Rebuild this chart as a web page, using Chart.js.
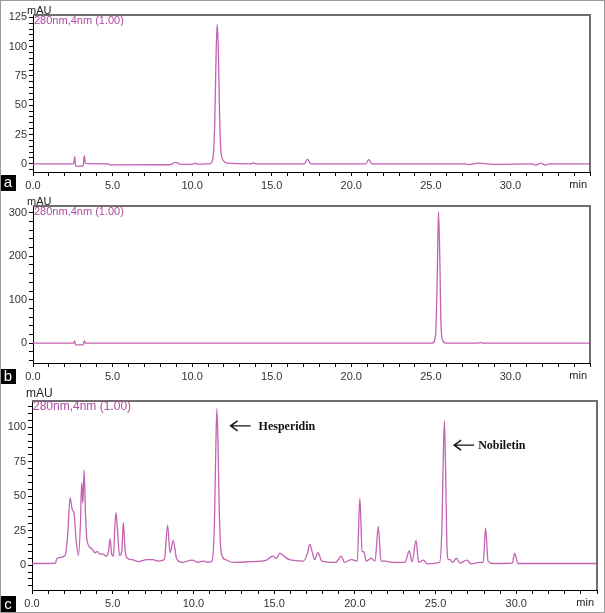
<!DOCTYPE html>
<html>
<head>
<meta charset="utf-8">
<script src="https://cdn.jsdelivr.net/npm/chart.js@4.4.1/dist/chart.umd.min.js"></script>
<style>
    body { margin: 0; background: #fff; }
    #wrap { position: relative; width: 605px; height: 613px; overflow: hidden; background: #fff; }
    #wrap canvas { position: absolute; left: 0; }
    .frame { position: absolute; left: 0; top: 0; width: 603px; height: 611px; border: 1px solid #9a9a9a; pointer-events: none; }
    .tag { position: absolute; left: 0; width: 16px; background: #000; color: #fff; font: 15px "Liberation Sans", Arial, sans-serif; text-align: center; }
</style>
</head>
<body>
<div id="wrap">
    <canvas id="chartA" width="605" height="190" style="top:0"></canvas>
    <canvas id="chartB" width="605" height="190" style="top:190px"></canvas>
    <canvas id="chartC" width="605" height="233" style="top:380px"></canvas>
    <div class="tag" style="top:175px;height:16px;line-height:14px">a</div>
    <div class="tag" style="top:369px;height:15px;line-height:13px">b</div>
    <div class="tag" style="top:596px;height:16px;line-height:15px">c</div>
    <div class="frame"></div>
</div>
<script>
// retention time (min) and absorbance (mAU)
const timeA = [0, 2.55, 2.62, 2.68, 3.15, 3.22, 3.3, 4.7, 4.85, 8.6, 8.95, 9.3, 10.0, 10.15, 10.4,
    11.1, 11.3, 11.42, 11.5, 11.57, 11.64, 11.72, 11.8, 11.95, 12.2, 13.7, 13.85, 14.0,
    17.05, 17.25, 17.45, 20.9, 21.1, 21.3, 27.2, 27.35, 28.0, 29.1, 31.3, 31.6, 31.9, 32.2, 32.5, 35];
const mauA = [0, 0, 6, -2, -2, 7, 0.3, 0, -1, -0.8, 1.2, -0.5, -0.5, 0.5, -0.3,
    0, 4, 35, 90, 119, 100, 45, 12, 3, 0.5, 0, 0.8, 0,
    0, 4, 0, 0, 3.5, 0, 0, -0.7, 0.5, -0.5, 0, -1, 0.5, -1, 0, 0];

const timeB = [0, 2.55, 2.62, 2.68, 3.15, 3.22, 3.3, 25.1, 25.3, 25.4, 25.48, 25.56, 25.64, 25.75, 25.95,
    28.0, 28.1, 28.2, 35];
const mauB = [0, 0, 5, -4, -4, 5, 0, 0, 20, 150, 303, 200, 40, 5, 0,
    0, 1.5, 0, 0];

const timeC = [0, 1.45, 1.55, 2.05, 2.2, 2.36, 2.5, 2.6, 2.72, 2.88, 3.0, 3.08, 3.15, 3.23, 3.32, 3.42,
    3.7, 3.9, 4.05, 4.2, 4.4, 4.6, 4.74, 4.84, 4.94, 5.05, 5.12, 5.2, 5.3, 5.42, 5.56, 5.66, 5.76, 5.9,
    6.2, 6.6, 7.1, 7.5, 7.8, 8.2, 8.4, 8.55, 8.75, 8.95, 9.3, 9.9, 10.3, 10.6, 10.9,
    11.15, 11.3, 11.38, 11.45, 11.52, 11.6, 11.72, 11.98, 12.5, 13.5, 14.5, 14.9, 15.15, 15.35, 15.55, 15.95,
    16.8, 17.05, 17.2, 17.35, 17.5, 17.72, 17.95, 18.8, 19.17, 19.35, 19.8, 20.15, 20.31, 20.45, 20.56, 20.7,
    21.0, 21.25, 21.45, 21.62, 21.86, 22.3, 23.1, 23.37, 23.55, 23.79, 23.95, 24.24, 24.5,
    25.25, 25.4, 25.48, 25.55, 25.62, 25.7, 25.8, 25.9, 26.05, 26.3, 26.5, 26.94, 27.2, 27.7,
    27.95, 28.1, 28.25, 28.6, 29.75, 29.9, 30.1, 35];
const mauC = [1.2, 1.5, 5, 7, 20, 49, 40, 38, 20, 7, 30, 60, 45, 69, 35, 17,
    12, 9, 10, 8, 8, 6.5, 10, 19, 8, 6.5, 25, 38, 25, 7, 10, 31, 12, 5,
    4, 2.5, 4, 4, 3, 4, 29, 9, 18, 5, 2, 3.7, 2, 3, 2,
    3, 30, 80, 113.5, 90, 40, 9, 4, 2, 2.5, 3.5, 6.5, 5, 8.7, 7, 4,
    3, 8, 15, 10, 4, 9, 3, 2, 6.5, 2, 4, 3, 48.5, 10, 9.7, 3,
    5, 3, 28, 3, 3, 2, 2, 10.4, 2.5, 18, 2, 3.6, 1,
    2, 30, 80, 104.6, 70, 15, 4, 4, 2, 5, 1.5, 3.6, 1, 2,
    2, 27, 3, 1.2, 1.5, 8.5, 1.2, 1.2];

const peakNames = ['Hesperidin', 'Nobiletin'];
const headerText = '280nm,4nm (1.00)';

const LINE = '#c462b4';
const TEXT_PINK = '#b04aa0';
const SANS = '"Liberation Sans", Arial, sans-serif';

const makeChart = (id, times, values, opt) => {
    const canvas = document.getElementById(id);
    const H = canvas.height;

    // frame, axis caption, header and peak notes
    const decor = {
        id: 'decor',
        afterDraw(chart) {
            const { ctx, chartArea: a, scales: { x, y } } = chart;
            ctx.save();
            ctx.strokeStyle = '#6e6e6e';
            ctx.lineWidth = 2;
            ctx.beginPath();
            ctx.moveTo(a.left, a.top);
            ctx.lineTo(a.right, a.top);
            ctx.lineTo(a.right, a.bottom);
            ctx.stroke();

            ctx.textBaseline = 'middle';
            ctx.fillStyle = '#222';
            ctx.font = `${opt.capSize}px ${SANS}`;
            ctx.textAlign = 'left';
            ctx.fillText('mAU', a.left - 6, a.top - opt.capLift);

            ctx.fillStyle = TEXT_PINK;
            ctx.font = `${opt.headSize}px ${SANS}`;
            ctx.fillText(headerText, a.left + 1, a.top + 6);

            ctx.fillStyle = '#222';
            ctx.font = `11px ${SANS}`;
            ctx.textAlign = 'right';
            ctx.fillText('min', a.right - 3, a.bottom + 13);

            (opt.notes || []).forEach(n => {
                const px = x.getPixelForValue(n.t);
                const py = y.getPixelForValue(n.v);
                ctx.strokeStyle = '#111';
                ctx.lineWidth = 1.4;
                ctx.beginPath();
                ctx.moveTo(px + 20, py);
                ctx.lineTo(px, py);
                ctx.moveTo(px + 7, py - 5);
                ctx.lineTo(px, py);
                ctx.lineTo(px + 7, py + 5);
                ctx.stroke();
                ctx.fillStyle = '#111';
                ctx.textAlign = 'left';
                ctx.font = `bold 12px "Liberation Serif", "Times New Roman", serif`;
                ctx.fillText(n.text, px + n.gap, py + 1);
            });
            ctx.restore();
        }
    };

    return new Chart(canvas.getContext('2d'), {
        type: 'scatter',
        data: {
            datasets: [{
                data: times.map((t, i) => ({ x: t, y: values[i] })),
                showLine: true,
                borderColor: LINE,
                borderWidth: 1.3,
                pointRadius: 0,
                cubicInterpolationMode: 'monotone',
                fill: false
            }]
        },
        options: {
            responsive: false,
            animation: false,
            events: [],
            layout: { padding: { left: 0, top: opt.top, right: 605 - opt.right, bottom: 0 } },
            plugins: { legend: { display: false }, tooltip: { enabled: false } },
            scales: {
                x: {
                    type: 'linear',
                    min: 0,
                    max: 35,
                    afterFit: s => { s.height = H - opt.bottom; },
                    ticks: {
                        stepSize: 1,
                        autoSkip: false,
                        maxTicksLimit: 100,
                        maxRotation: 0,
                        padding: 3,
                        color: '#333',
                        font: { family: SANS, size: 11 },
                        callback: v => (v % 5 === 0 && v < 35) ? v.toFixed(1) : ''
                    },
                    grid: { drawOnChartArea: false, tickLength: 4, color: '#000', tickColor: '#000' },
                    border: { color: '#000', width: 1 }
                },
                y: {
                    min: opt.yMin,
                    max: opt.yMax,
                    afterFit: s => { s.width = opt.left; },
                    ticks: {
                        stepSize: opt.minor,
                        includeBounds: false,
                        autoSkip: false,
                        maxTicksLimit: 100,
                        padding: 2,
                        color: '#333',
                        font: { family: SANS, size: 11 },
                        callback: v => (Math.round(v) % opt.major === 0) ? String(v) : ''
                    },
                    grid: { drawOnChartArea: false, tickLength: 4, color: '#000', tickColor: '#000' },
                    border: { color: '#000', width: 1 }
                }
            }
        },
        plugins: [decor]
    });
};

makeChart('chartA', timeA, mauA, {
    left: 33, right: 590, top: 15, bottom: 172,
    yMin: -7, yMax: 127, minor: 5, major: 25,
    capSize: 11, capLift: 4, headSize: 11
});

makeChart('chartB', timeB, mauB, {
    left: 33, right: 590, top: 16, bottom: 173,
    yMin: -46, yMax: 316, minor: 20, major: 100,
    capSize: 11, capLift: 4, headSize: 11
});

makeChart('chartC', timeC, mauC, {
    left: 32, right: 597, top: 21, bottom: 210,
    yMin: -18, yMax: 119, minor: 5, major: 25,
    capSize: 12, capLift: 7, headSize: 12,
    notes: [
        { t: 12.3, v: 101, text: peakNames[0], gap: 28 },
        { t: 26.15, v: 87, text: peakNames[1], gap: 24 }
    ]
});
</script>
</body>
</html>
